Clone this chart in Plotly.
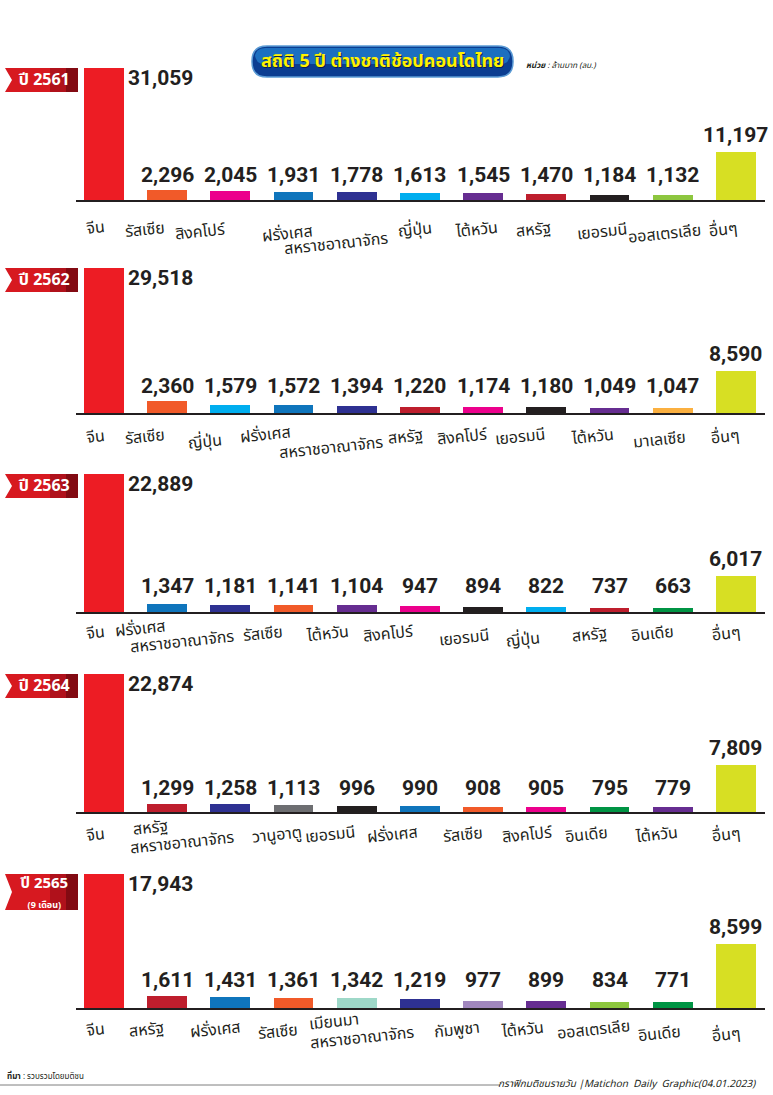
import plotly.graph_objects as go

W, H = 773, 1095

# ---------------- data ----------------
years = ["ปี 2561", "ปี 2562", "ปี 2563", "ปี 2564", "ปี 2565"]
year_notes = ["", "", "", "", "(9 เดือน)"]

cats_2561 = ["จีน", "รัสเซีย", "สิงคโปร์", "ฝรั่งเศส", "สหราชอาณาจักร", "ญี่ปุ่น", "ไต้หวัน", "สหรัฐ", "เยอรมนี", "ออสเตรเลีย", "อื่นๆ"]
vals_2561 = [31059, 2296, 2045, 1931, 1778, 1613, 1545, 1470, 1184, 1132, 11197]

cats_2562 = ["จีน", "รัสเซีย", "ญี่ปุ่น", "ฝรั่งเศส", "สหราชอาณาจักร", "สหรัฐ", "สิงคโปร์", "เยอรมนี", "ไต้หวัน", "มาเลเซีย", "อื่นๆ"]
vals_2562 = [29518, 2360, 1579, 1572, 1394, 1220, 1174, 1180, 1049, 1047, 8590]

cats_2563 = ["จีน", "ฝรั่งเศส", "สหราชอาณาจักร", "รัสเซีย", "ไต้หวัน", "สิงคโปร์", "เยอรมนี", "ญี่ปุ่น", "สหรัฐ", "อินเดีย", "อื่นๆ"]
vals_2563 = [22889, 1347, 1181, 1141, 1104, 947, 894, 822, 737, 663, 6017]

cats_2564 = ["จีน", "สหรัฐ", "สหราชอาณาจักร", "วานูอาตู", "เยอรมนี", "ฝรั่งเศส", "รัสเซีย", "สิงคโปร์", "อินเดีย", "ไต้หวัน", "อื่นๆ"]
vals_2564 = [22874, 1299, 1258, 1113, 996, 990, 908, 905, 795, 779, 7809]

cats_2565 = ["จีน", "สหรัฐ", "ฝรั่งเศส", "รัสเซีย", "เมียนมา", "สหราชอาณาจักร", "กัมพูชา", "ไต้หวัน", "ออสเตรเลีย", "อินเดีย", "อื่นๆ"]
vals_2565 = [17943, 1611, 1431, 1361, 1342, 1219, 977, 899, 834, 771, 8599]

panels_cats = [cats_2561, cats_2562, cats_2563, cats_2564, cats_2565]
panels_vals = [vals_2561, vals_2562, vals_2563, vals_2564, vals_2565]

# ---------------- styles ----------------
country_colors = {
    "จีน": "#ED1C24", "รัสเซีย": "#F15A29", "สิงคโปร์": "#EC008C", "ฝรั่งเศส": "#0F75BC",
    "สหราชอาณาจักร": "#2E3192", "ญี่ปุ่น": "#00AEEF", "ไต้หวัน": "#662D91", "สหรัฐ": "#BE1E2D",
    "เยอรมนี": "#231F20", "ออสเตรเลีย": "#8DC63F", "อื่นๆ": "#D7DF23", "มาเลเซีย": "#FBB040",
    "อินเดีย": "#009444", "วานูอาตู": "#6D6E71", "เมียนมา": "#9ED8C8", "กัมพูชา": "#A187BE",
}

panel_px = [(68, 200), (268, 413), (474, 612), (674, 812), (874, 1008)]
X0, X1 = 76, 765
lab_dx = [
    [-8, -22, -30, -6, -21, -5, -7, -13, -8, -8, -12],
    [-8, -22, -25, -28, -26, -14, -21, -26, -17, -13, -10],
    [-8, -27, -48, -30, -29, -31, -19, -23, -20, -20, -9],
    [-8, -17, -48, -16, -27, -27, -20, -19, -23, -16, -9],
    [-8, -21, -15, -15, -23, -58, -26, -24, -16, -13, -9],
]
lab_dy = [
    [28, 30, 32, 34, 44, 30, 30, 30, 32, 34, 30],
    [24, 24, 29, 22, 35, 24, 24, 24, 24, 27, 24],
    [21, 17, 30, 22, 22, 22, 26, 28, 23, 22, 22],
    [23, 16, 31, 23, 23, 23, 23, 23, 23, 23, 23],
    [22, 22, 22, 24, 14, 30, 22, 22, 22, 26, 27],
]
small_label_shift = [25, 27, 26, 24, 28]

NUM_FONT = "Roboto, Liberation Sans, sans-serif"
THAI_FONT = "Noto Sans Thai, Noto Sans Thai UI, Loma, Garuda, Tahoma, sans-serif"
DARK = "#231F20"


def px(x):
    return x / W


def py(y):
    return 1 - y / H


fig = go.Figure()
annotations = []
shapes = []

for i, (cats, vals) in enumerate(zip(panels_cats, panels_vals)):
    n = i + 1
    xa = "x" if n == 1 else f"x{n}"
    ya = "y" if n == 1 else f"y{n}"
    top, base = panel_px[i]
    idx = list(range(len(cats)))
    fig.add_trace(go.Bar(
        x=idx, y=vals, width=0.63,
        marker=dict(color=[country_colors[c] for c in cats], line=dict(width=0)),
        xaxis=xa, yaxis=ya, hoverinfo="x+y", showlegend=False,
    ))
    fig.layout[f"xaxis{'' if n == 1 else n}"] = dict(
        domain=[px(X0), px(X1)], range=[-0.44, 10.46], anchor=ya,
        showline=True, linecolor=DARK, linewidth=2, showgrid=False,
        zeroline=False, showticklabels=False, ticks="", fixedrange=True,
    )
    fig.layout[f"yaxis{'' if n == 1 else n}"] = dict(
        domain=[py(base), py(top)], range=[0, max(vals)], anchor=xa,
        visible=False, fixedrange=True,
    )
    for j, (c, v) in enumerate(zip(cats, vals)):
        txt = f"<b>{v:,}</b>"
        nf = dict(family=NUM_FONT, size=21, color=DARK)
        if j == 0:
            annotations.append(dict(
                x=j, y=v, xref=xa, yref=ya, text=txt, showarrow=False,
                xanchor="left", yanchor="top", xshift=22, yshift=4, font=nf))
        elif j == len(cats) - 1:
            annotations.append(dict(
                x=j, y=v, xref=xa, yref=ya, text=txt, showarrow=False,
                xanchor="center", yanchor="bottom", yshift=3, font=nf))
        else:
            annotations.append(dict(
                x=j, y=0, xref=xa, yref=f"{ya} domain", text=txt, showarrow=False,
                xanchor="center", yanchor="middle", yshift=small_label_shift[i], font=nf))
        annotations.append(dict(
            x=j, y=0, xref=xa, yref=f"{ya} domain", text=c, showarrow=False,
            xanchor="center", yanchor="middle", textangle=-6,
            xshift=lab_dx[i][j], yshift=-lab_dy[i][j],
            font=dict(family=THAI_FONT, size=16, color=DARK)))

    # year ribbon
    th = 24 if not year_notes[i] else 36
    y0, y1 = top, top + th
    shapes.append(dict(
        type="path", xref="paper", yref="paper",
        path=f"M {px(5)},{py(y0)} L {px(78)},{py(y0)} L {px(78)},{py(y1)} L {px(5)},{py(y1)} L {px(12)},{py((y0+y1)/2)} Z",
        fillcolor="#D71920", line=dict(width=0), layer="above"))
    shapes.append(dict(
        type="rect", xref="paper", yref="paper",
        x0=px(50), x1=px(78), y0=py(y1), y1=py(y0),
        fillcolor="#B0111B", line=dict(width=0), layer="above"))
    shapes.append(dict(
        type="rect", xref="paper", yref="paper",
        x0=px(66), x1=px(78), y0=py(y1), y1=py(y0),
        fillcolor="#820A12", line=dict(width=0), layer="above"))
    if year_notes[i]:
        ytxt = (f"<b>{years[i]}</b><br>"
                f"<span style='font-size:9px'><b>{year_notes[i]}</b></span>")
        annotations.append(dict(
            x=px(44), y=py((y0 + y1) / 2), xref="paper", yref="paper",
            text=ytxt, showarrow=False, xanchor="center", yanchor="middle",
            font=dict(family=THAI_FONT, size=15, color="white")))
    else:
        annotations.append(dict(
            x=px(44), y=py((y0 + y1) / 2), xref="paper", yref="paper",
            text=f"<b>{years[i]}</b>", showarrow=False, xanchor="center", yanchor="middle",
            font=dict(family=THAI_FONT, size=16, color="white")))

# title pill
tx0, tx1, ty0, ty1 = 252, 513, 46, 77


def pill(x0, x1, y0, y1, r):
    return (f"M {px(x0+r)},{py(y0)} L {px(x1-r)},{py(y0)} "
            f"Q {px(x1)},{py(y0)} {px(x1)},{py(y0+r)} L {px(x1)},{py(y1-r)} "
            f"Q {px(x1)},{py(y1)} {px(x1-r)},{py(y1)} L {px(x0+r)},{py(y1)} "
            f"Q {px(x0)},{py(y1)} {px(x0)},{py(y1-r)} L {px(x0)},{py(y0+r)} "
            f"Q {px(x0)},{py(y0)} {px(x0+r)},{py(y0)} Z")


shapes.append(dict(type="path", xref="paper", yref="paper", path=pill(tx0, tx1, ty0, ty1, 15),
                   fillcolor="#0B3D91", line=dict(color="#5B9BD5", width=1.5)))
shapes.append(dict(type="path", xref="paper", yref="paper", path=pill(tx0 + 3, tx1 - 3, ty0 + 2, ty1 - 13, 10),
                   fillcolor="#1C6FC0", line=dict(width=0)))
title_txt = "<b>สถิติ 5 ปี ต่างชาติช้อปคอนโดไทย</b>"
annotations.append(dict(
    x=px((tx0 + tx1) / 2), y=py((ty0 + ty1) / 2), xref="paper", yref="paper",
    text=title_txt, showarrow=False, xanchor="center", yanchor="middle", xshift=1, yshift=-1,
    font=dict(family=THAI_FONT, size=18, color="#0A1F4F")))
annotations.append(dict(
    x=px((tx0 + tx1) / 2), y=py((ty0 + ty1) / 2), xref="paper", yref="paper",
    text=title_txt, showarrow=False, xanchor="center", yanchor="middle",
    font=dict(family=THAI_FONT, size=18, color="#FFF200")))
annotations.append(dict(
    x=px(524), y=py(66), xref="paper", yref="paper", xanchor="left", yanchor="middle",
    text="<b><i>หน่วย</i></b><i> : ล้านบาท (ลบ.)</i>", showarrow=False,
    font=dict(family=THAI_FONT, size=8, color=DARK)))

# footer
annotations.append(dict(
    x=px(5), y=py(1076), xref="paper", yref="paper", xanchor="left", yanchor="middle",
    text="<b>ที่มา</b> : รวบรวมโดยมติชน", showarrow=False,
    font=dict(family=THAI_FONT, size=8, color=DARK)))
shapes.append(dict(type="line", xref="paper", yref="paper", x0=0, x1=px(500), y0=py(1085), y1=py(1085),
                   line=dict(color="#7F7F7F", width=1)))
annotations.append(dict(
    x=px(758), y=py(1084), xref="paper", yref="paper", xanchor="right", yanchor="middle",
    text="<i>กราฟิกมติชนรายวัน |Matichon  Daily  Graphic(04.01.2023)</i>", showarrow=False,
    font=dict(family=THAI_FONT, size=10, color=DARK)))

fig.update_layout(
    width=W, height=H, margin=dict(l=0, r=0, t=0, b=0),
    paper_bgcolor="white", plot_bgcolor="white",
    annotations=annotations, shapes=shapes, bargap=0, showlegend=False,
)

fig.write_html("out.html", config={"displayModeBar": False})
